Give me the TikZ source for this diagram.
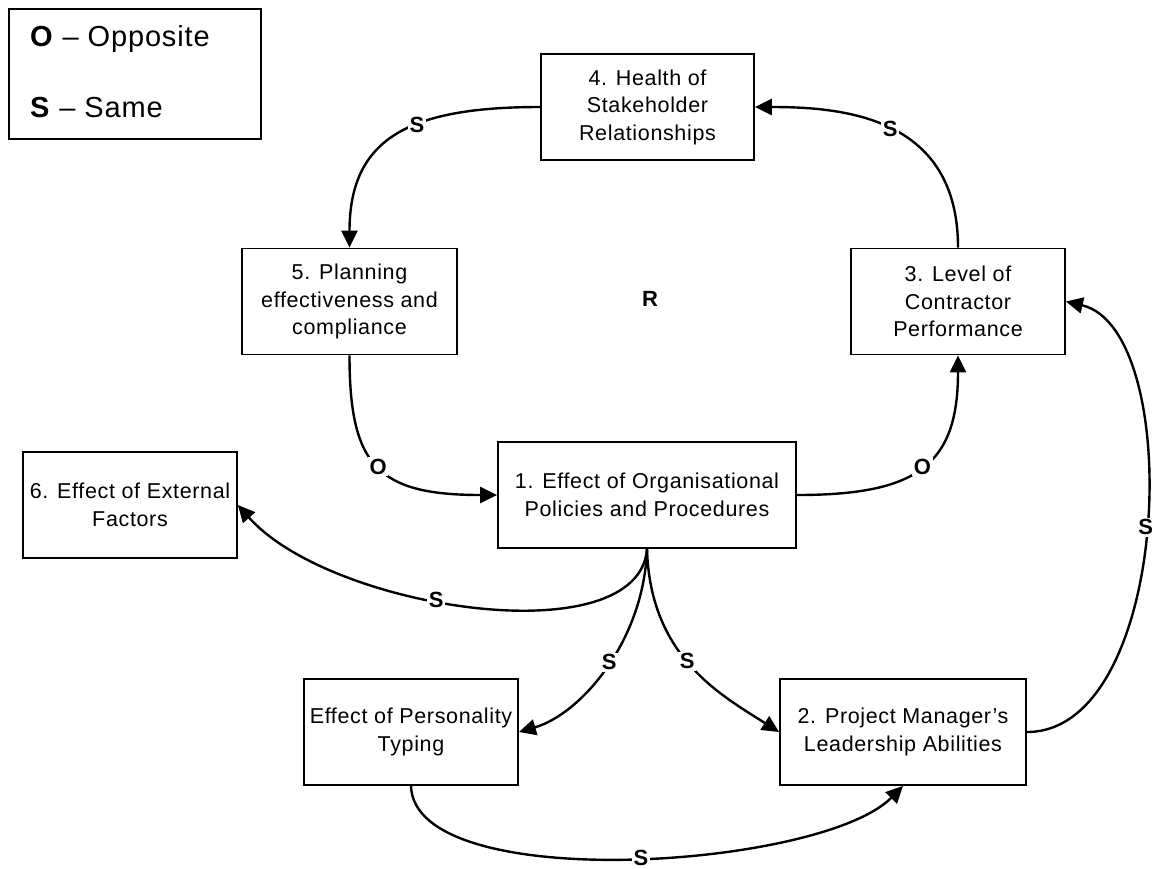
\documentclass[tikz,border=0pt]{standalone}
\usepackage{fontspec}
\setmainfont{Liberation Sans}[LetterSpace=3]
\usetikzlibrary{arrows.meta}
\begin{document}
\begin{tikzpicture}[x=1pt,y=-1pt,
  box/.style={draw=black, line width=1.8pt, minimum width=#1, minimum height=106pt,
    align=center, inner sep=0pt, font=\fontsize{21.5}{27.5}\selectfont},
  box/.default=214pt,
  link/.style={line width=2.4pt, -{Triangle[length=17pt,width=16pt]}},
  lbl/.style={fill=white, inner sep=1.5pt, font=\bfseries\fontsize{22}{24}\selectfont},
  legtext/.style={anchor=west, inner sep=0pt, font=\fontsize{29}{32}\selectfont},
]
\useasboundingbox (0,0) rectangle (1155,868);

% legend
\node[draw=black, line width=1.8pt, minimum width=252pt, minimum height=130pt, inner sep=0pt] (legend) at (135,74) {};
\node[legtext] (legO) at (30,39) {\textbf{O} – Opposite};
\node[legtext] (legS) at (30,108) {\textbf{S} – Same};

% factors
\node[box=213pt] (b4) at (647.5,107) {4. Health of\\Stakeholder\\Relationships};
\node[box=215pt] (b5) at (349.5,301.5) {5. Planning\\effectiveness and\\compliance};
\node[box] (b3) at (958,301.5) {3. Level of\\Contractor\\Performance};
\node[box=298pt] (b1) at (647,495) {1. Effect of Organisational\\Policies and Procedures};
\node[box] (b6) at (130,505) {6. Effect of External\\Factors};
\node[box] (bP) at (411,732) {Effect of Personality\\Typing};
\node[box=246pt] (b2) at (903,732) {2. Project Manager’s\\Leadership Abilities};

% loop marker
\node[font=\bfseries\fontsize{22}{24}\selectfont] (loopR) at (650,299) {R};

% causal links
\draw[link] (b4.west) .. controls +(-130,0) and +(0,-110) .. (b5.north) node[lbl,pos=0.4] {S};
\draw[link] (b3.north) .. controls +(0,-130) and +(90,0) .. (b4.east) node[lbl,pos=0.5] {S};
\draw[link] (b5.south) .. controls +(0,110) and +(-120,0) .. (b1.west) node[lbl,pos=0.5] {O};
\draw[link] (b1.east) .. controls +(120,0) and +(0,110) .. (b3.south) node[lbl,pos=0.5] {O};
\draw[link] (b1.south) .. controls +(-8,107) and +(93,105) .. (b6.east) node[lbl,pos=0.57] {S};
\draw[link] (b1.south) .. controls +(-3,92) and +(62,-18) .. (bP.east) node[lbl,pos=0.47] {S};
\draw[link] (b1.south) .. controls +(3,107) and +(-60,-38) .. (b2.west) node[lbl,pos=0.47] {S};
\draw[link] (b2.east) .. controls +(145,0) and +(120,28) .. (b3.east) node[lbl,pos=0.5] {S};
\draw[link] (bP.south) .. controls +(3,110) and +(-82,83) .. (b2.south) node[lbl,pos=0.52] {S};
\end{tikzpicture}
\end{document}
